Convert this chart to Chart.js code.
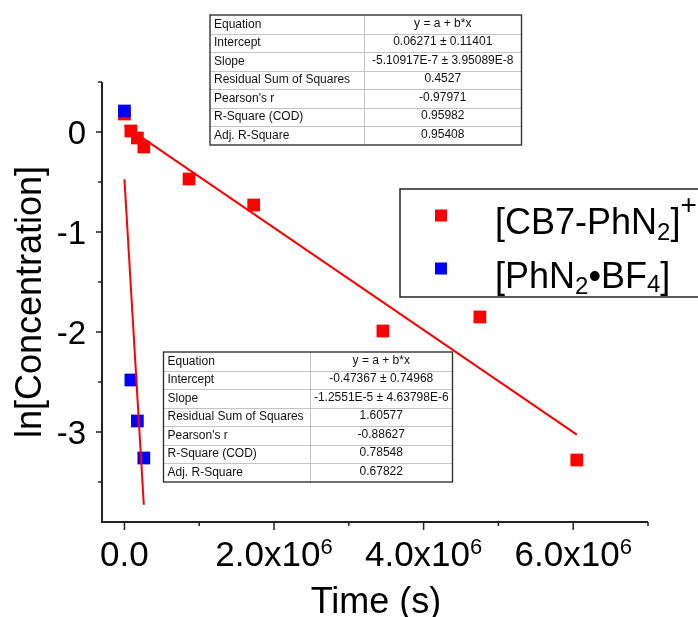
<!DOCTYPE html>
<html>
<head>
<meta charset="utf-8">
<script src="https://cdn.jsdelivr.net/npm/chart.js@4.4.1/dist/chart.umd.min.js"></script>
<style>
  html, body { margin: 0; padding: 0; background: #fff; }
  #wrap { width: 698px; height: 617px; }
</style>
</head>
<body>
<div id="wrap"><canvas id="kinetics" width="698" height="617"></canvas></div>
<script>
// time in seconds (0, 1, 2, 3, 10, 20, 40, 55, 70 days)
const cbTime = [0, 86400, 172800, 259200, 864000, 1728000, 3456000, 4752000, 6048000];
const cbLnConc = [0.18, 0.01, -0.06, -0.15, -0.47, -0.73, -1.99, -1.85, -3.28];
const bfTime = [0, 86400, 172800, 259200];
const bfLnConc = [0.21, -2.48, -2.89, -3.26];

// linear fits, end points as drawn
const cbFitTime = [0, 6048000];
const cbFitLn = [0.063, -3.027];
const bfFitTime = [0, 259200];
const bfFitLn = [-0.474, -3.727];

// ticks
const xMajorTicks = [0, 2e6, 4e6, 6e6];
const xTickText = ['0.0', '2.0x10', '4.0x10', '6.0x10'];
const xTickExp = ['', '6', '6', '6'];
const xMinorTicks = [1e6, 3e6, 5e6, 7e6];
const yMajorTicks = [0, -1, -2, -3];
const yTickText = ['0', '-1', '-2', '-3'];
const yMinorTicks = [0.5, -0.5, -1.5, -2.5, -3.5];

// fit result tables
const fitRowNames = ['Equation', 'Intercept', 'Slope', 'Residual Sum of Squares', "Pearson's r", 'R-Square (COD)', 'Adj. R-Square'];
const cbFitValues = ['y = a + b*x', '0.06271 \u00b1 0.11401', '-5.10917E-7 \u00b1 3.95089E-8', '0.4527', '-0.97971', '0.95982', '0.95408'];
const bfFitValues = ['y = a + b*x', '-0.47367 \u00b1 0.74968', '-1.2551E-5 \u00b1 4.63798E-6', '1.60577', '-0.88627', '0.78548', '0.67822'];

const FONT = '"Liberation Sans", Arial, sans-serif';

function toXY(xs, ys) {
    return xs.map((v, i) => ({ x: v, y: ys[i] }));
}

// text with sub/superscripts: parts = [{t, size, dy}]
function drawRich(ctx, parts, x, y, align) {
    let total = 0;
    parts.forEach(p => {
        ctx.font = p.size + 'px ' + FONT;
        p.w = ctx.measureText(p.t).width;
        total += p.w;
    });
    let cx = x;
    if (align === 'center') cx = x - total / 2;
    if (align === 'right') cx = x - total;
    ctx.textAlign = 'left';
    ctx.textBaseline = 'alphabetic';
    parts.forEach(p => {
        ctx.font = p.size + 'px ' + FONT;
        ctx.fillText(p.t, cx, y + (p.dy || 0));
        cx += p.w;
    });
}

function drawTable(ctx, values, left, top, right, divider) {
    const rowH = 18.57;
    const bottom = top + rowH * fitRowNames.length;
    ctx.save();
    ctx.fillStyle = '#fff';
    ctx.fillRect(left, top, right - left, bottom - top);
    ctx.strokeStyle = '#c4c4c4';
    ctx.lineWidth = 1;
    ctx.beginPath();
    for (let i = 1; i < fitRowNames.length; i++) {
        const yy = Math.round(top + rowH * i) + 0.5;
        ctx.moveTo(left, yy);
        ctx.lineTo(right, yy);
    }
    ctx.moveTo(divider + 0.5, top);
    ctx.lineTo(divider + 0.5, bottom);
    ctx.stroke();
    ctx.strokeStyle = '#333';
    ctx.lineWidth = 1.4;
    ctx.strokeRect(left, top, right - left, bottom - top);
    ctx.fillStyle = '#111';
    ctx.font = '12px ' + FONT;
    ctx.textBaseline = 'middle';
    fitRowNames.forEach((name, i) => {
        const cy = top + rowH * (i + 0.5);
        ctx.textAlign = 'left';
        ctx.fillText(name, left + 4, cy);
        ctx.textAlign = 'center';
        ctx.fillText(values[i], (divider + right) / 2, cy - 1);
    });
    ctx.restore();
}

const originPlugin = {
    id: 'originDecor',
    afterDraw(chart) {
        const { ctx, chartArea: a, scales: { x, y } } = chart;
        ctx.save();

        // axes
        ctx.strokeStyle = '#222';
        ctx.lineWidth = 2;
        ctx.beginPath();
        ctx.moveTo(a.left, a.top);
        ctx.lineTo(a.left, a.bottom);
        ctx.lineTo(a.right, a.bottom);
        ctx.stroke();

        // tick marks
        ctx.lineWidth = 1.5;
        ctx.beginPath();
        xMajorTicks.forEach(v => { const px = x.getPixelForValue(v); ctx.moveTo(px, a.bottom); ctx.lineTo(px, a.bottom + 8); });
        xMinorTicks.forEach(v => { const px = x.getPixelForValue(v); ctx.moveTo(px, a.bottom); ctx.lineTo(px, a.bottom + 4); });
        yMajorTicks.forEach(v => { const py = y.getPixelForValue(v); ctx.moveTo(a.left, py); ctx.lineTo(a.left - 6, py); });
        yMinorTicks.forEach(v => { const py = y.getPixelForValue(v); ctx.moveTo(a.left, py); ctx.lineTo(a.left - 4, py); });
        ctx.stroke();

        // tick labels
        ctx.fillStyle = '#000';
        xMajorTicks.forEach((v, i) => {
            const parts = [{ t: xTickText[i], size: 35 }];
            if (xTickExp[i]) parts.push({ t: xTickExp[i], size: 22, dy: -12 });
            drawRich(ctx, parts, x.getPixelForValue(v), a.bottom + 44, 'center');
        });
        ctx.font = '33px ' + FONT;
        ctx.textAlign = 'right';
        ctx.textBaseline = 'alphabetic';
        yMajorTicks.forEach((v, i) => {
            ctx.fillText(yTickText[i], a.left - 16, y.getPixelForValue(v) + 12);
        });

        // axis titles
        ctx.font = '36px ' + FONT;
        ctx.textAlign = 'center';
        ctx.fillText('Time (s)', (a.left + a.right) / 2 + 1, 613);
        ctx.save();
        ctx.translate(41, (a.top + a.bottom) / 2);
        ctx.rotate(-Math.PI / 2);
        ctx.fillText('ln[Concentration]', 0, 0);
        ctx.restore();

        // legend
        ctx.strokeStyle = '#222';
        ctx.lineWidth = 1.5;
        ctx.strokeRect(400, 189, 330, 108);
        ctx.fillStyle = '#ff0000';
        ctx.fillRect(435, 209.5, 12, 12);
        ctx.fillStyle = '#0000ff';
        ctx.fillRect(435, 262.5, 12, 12);
        ctx.fillStyle = '#000';
        drawRich(ctx, [
            { t: '[CB7-PhN', size: 36 },
            { t: '2', size: 24, dy: 6 },
            { t: ']', size: 36 },
            { t: '+', size: 28, dy: -20 }
        ], 495, 234, 'left');
        drawRich(ctx, [
            { t: '[PhN', size: 36 },
            { t: '2', size: 24, dy: 6 },
            { t: '\u2022BF', size: 36 },
            { t: '4', size: 24, dy: 4 },
            { t: ']', size: 36 }
        ], 495, 288, 'left');

        // fit tables
        drawTable(ctx, cbFitValues, 210, 15, 521.5, 364);
        drawTable(ctx, bfFitValues, 163.5, 352, 452.5, 310);

        ctx.restore();
    }
};

const ctx = document.getElementById('kinetics').getContext('2d');
const chart = new Chart(ctx, {
    type: 'scatter',
    data: {
        datasets: [
            {
                label: 'CB7 fit',
                type: 'line',
                data: toXY(cbFitTime, cbFitLn),
                borderColor: '#ff0000',
                borderWidth: 2,
                pointRadius: 0,
                fill: false,
                order: 0
            },
            {
                label: 'BF4 fit',
                type: 'line',
                data: toXY(bfFitTime, bfFitLn),
                borderColor: '#ff0000',
                borderWidth: 2,
                pointRadius: 0,
                fill: false,
                order: 0
            },
            {
                label: '[PhN2\u2022BF4]',
                data: toXY(bfTime, bfLnConc),
                pointStyle: 'rect',
                pointRadius: 9,
                pointBackgroundColor: '#0000ff',
                pointBorderWidth: 0,
                borderColor: '#0000ff',
                order: 1
            },
            {
                label: '[CB7-PhN2]+',
                data: toXY(cbTime, cbLnConc),
                pointStyle: 'rect',
                pointRadius: 9,
                pointBackgroundColor: '#ff0000',
                pointBorderWidth: 0,
                borderColor: '#ff0000',
                order: 2
            }
        ]
    },
    options: {
        responsive: false,
        animation: false,
        layout: { padding: { left: 102, right: 50, top: 82, bottom: 95 } },
        plugins: {
            legend: { display: false },
            tooltip: { enabled: false }
        },
        scales: {
            x: { type: 'linear', min: -0.3e6, max: 7.0e6, display: false },
            y: { type: 'linear', min: -3.9, max: 0.5, display: false }
        }
    },
    plugins: [originPlugin]
});
</script>
</body>
</html>
